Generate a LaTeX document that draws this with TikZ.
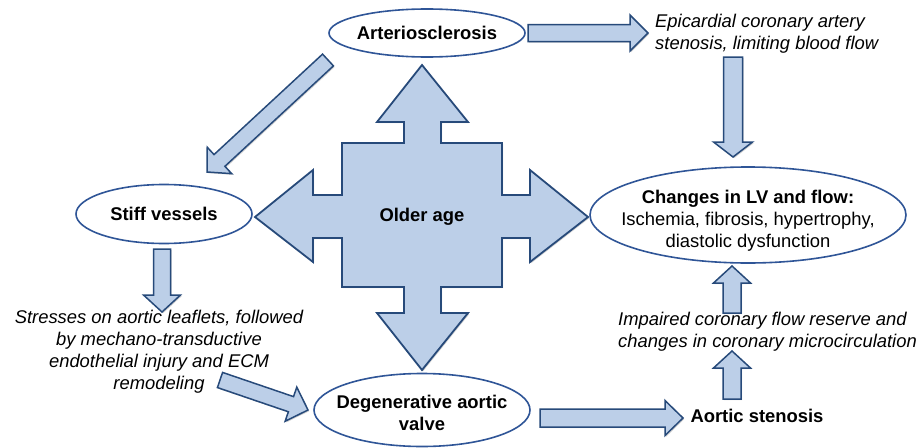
\documentclass[tikz,border=0pt]{standalone}
\usepackage{fontspec}
\setmainfont{Liberation Sans}
\usetikzlibrary{shapes.geometric,calc,shadows}
\definecolor{fillblue}{HTML}{BCCFE8}
\definecolor{lineblue}{HTML}{2F5597}
\definecolor{arrowline}{HTML}{274A7A}
\tikzset{
  bubble/.style={ellipse, draw=lineblue, line width=1.6pt, fill=white, inner sep=0pt},
  btxt/.style={font=\fontsize{18.4}{22}\selectfont, inner sep=0pt, align=center},
  boldtxt/.style={font=\fontsize{18.4}{22}\selectfont\bfseries, inner sep=0pt},
  itxt/.style={font=\fontsize{18.4}{22}\selectfont\itshape, inner sep=0pt},
  barrowstyle/.style={fill=fillblue, draw=arrowline, line width=1.5pt, line join=miter,
     drop shadow={shadow xshift=1.2pt, shadow yshift=-1.2pt, opacity=0.35}},
}
\newcommand\barrow[5]{%
  \coordinate (bh) at ($(#2)!#5!(#1)$);
  \draw[barrowstyle] ($(#1)!#3!90:(#2)$) -- ($(bh)!#3!90:(#2)$) -- ($(bh)!#4!90:(#2)$) -- (#2)
     -- ($(bh)!#4!-90:(#2)$) -- ($(bh)!#3!-90:(#2)$) -- ($(#1)!#3!-90:(#2)$) -- cycle;
}
\begin{document}
\begin{tikzpicture}[x=1pt,y=-1pt]
\useasboundingbox (0,0) rectangle (923,447);

% central cross
\draw[barrowstyle, line width=1.8pt]
  (422,65) -- (468,122) -- (441,122) -- (441,143) -- (502,143) -- (502,195) -- (530,195) -- (530,170)
  -- (588,217) -- (530,262) -- (530,238) -- (502,238) -- (502,287) -- (441,287) -- (441,313)
  -- (468,313) -- (422,370) -- (377,313) -- (404,313) -- (404,287) -- (342,287) -- (342,238)
  -- (313,238) -- (313,262) -- (255,217) -- (313,170) -- (313,195) -- (342,195) -- (342,143)
  -- (404,143) -- (404,122) -- (377,122) -- cycle;
\node[boldtxt] (older) at (422,217) {Older age};

% nodes
\node[bubble, minimum width=196pt, minimum height=48pt] (art) at (427,33) {};
\node[boldtxt] (artt) at (art.center) {Arteriosclerosis};
\node[bubble, minimum width=176pt, minimum height=59pt] (stiff) at (164,214) {};
\node[boldtxt] (stifft) at (stiff.center) {Stiff vessels};
\node[bubble, minimum width=216pt, minimum height=73pt] (deg) at (422,410) {};
\node[btxt] (degt) at ($(deg.center)+(0,3)$) {\bfseries Degenerative aortic\\\bfseries valve};
\node[bubble, minimum width=316pt, minimum height=96pt] (lv) at (748,215) {};
\node[btxt] (lvt) at ($(lv.center)+(0,6)$)
  {\bfseries Changes in LV and flow:\\Ischemia, fibrosis, hypertrophy,\\diastolic dysfunction};
\node[boldtxt] (as) at (757,416) {Aortic stenosis};
\node[itxt, align=left, anchor=west] (epi) at (655,34) {Epicardial coronary artery\\stenosis, limiting blood flow};
\node[itxt, align=left, anchor=west] (imp) at (618,332) {Impaired coronary flow reserve and\\changes in coronary microcirculation};
\node[itxt, align=center] (str) at (159,352) {Stresses on aortic leaflets, followed\\by mechano-transductive\\endothelial injury and ECM\\remodeling};

% connector end points
\coordinate (a1t) at (528,33);  \coordinate (a1h) at (648,33);
\coordinate (a2t) at (328,60);  \coordinate (a2h) at (207,172);
\coordinate (a3t) at (162,249); \coordinate (a3h) at (162,312);
\coordinate (a4t) at (220,380); \coordinate (a4h) at (308,410);
\coordinate (a5t) at (540,418); \coordinate (a5h) at (683,418);
\coordinate (a6t) at (732,399); \coordinate (a6h) at (732,351);
\coordinate (a7t) at (732,313); \coordinate (a7h) at (732,266);
\coordinate (a8t) at (733,57);  \coordinate (a8h) at (733,157);

\barrow{a1t}{a1h}{8.5pt}{18pt}{18pt}
\barrow{a2t}{a2h}{8pt}{18pt}{17pt}
\barrow{a3t}{a3h}{8.5pt}{18.5pt}{17pt}
\barrow{a4t}{a4h}{8pt}{18pt}{18pt}
\barrow{a5t}{a5h}{9pt}{17.5pt}{18pt}
\barrow{a6t}{a6h}{9pt}{18.5pt}{17pt}
\barrow{a7t}{a7h}{9pt}{18.5pt}{17pt}
\barrow{a8t}{a8h}{9.5pt}{19.5pt}{15pt}
\end{tikzpicture}
\end{document}
